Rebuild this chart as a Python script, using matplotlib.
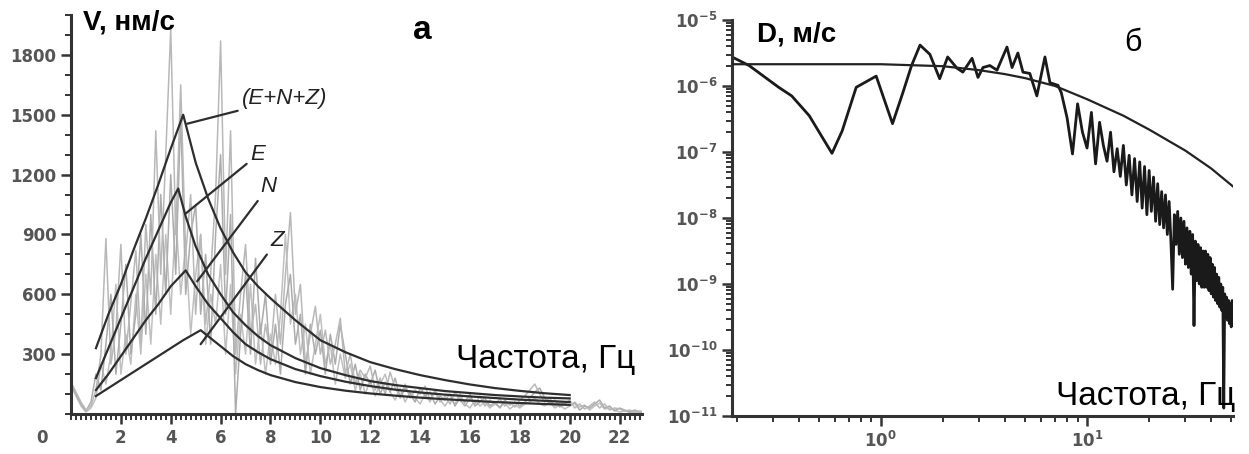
import numpy as np
import matplotlib
matplotlib.use('Agg')
import matplotlib.pyplot as plt
from matplotlib import font_manager
from matplotlib.ticker import MultipleLocator, LogLocator, NullFormatter, FixedLocator, FuncFormatter

names = {f.name for f in font_manager.fontManager.ttflist}
SANS = 'Liberation Sans' if 'Liberation Sans' in names else 'DejaVu Sans'
NARROW = 'Liberation Sans Narrow' if 'Liberation Sans Narrow' in names else SANS

# ---------------- Panel a: velocity spectra (linear) ----------------
df_a = 0.2  # Hz, frequency step of measured spectra
spec_E = [160,110,60,20,40,120,300,880,250,420, 850,300,560,820,350,950,600,1420,700,1300,
          1930,900,1650,800,1100,500,900,450,700,1100, 1870,700,1420,300,600,850,400,550,250,450,
          300,600,350,700,1010,500,650,250,400,540, 300,420,250,350,480,200,300,150,220,180,
          240,120,180,100,210,130,90,150,80,120, 100,140,70,110,60,90,50,110,70,40,
          80,50,90,40,70,50,75,40,60,35, 70,90,120,150,100,60,80,40,60,50,
          70,30,50,25,40,60,30,50,20,30, 25,15,20,10,15,10]
spec_N = [150,100,50,15,60,200,120,350,600,200, 450,750,300,500,900,400,1000,500,1100,600,
          1200,700,1500,600,900,1050,500,800,350,900, 1300,500,1000,0,400,700,300,780,400,600,
          250,450,200,550,700,350,500,200,450,300, 420,200,400,250,450,300,150,250,120,200,
          150,220,100,160,110,180,80,130,100,60, 130,90,110,50,90,70,100,40,80,60,
          100,40,60,80,40,60,30,70,45,60, 40,60,80,110,130,80,50,70,35,50,
          40,55,20,40,30,50,70,30,40,15, 30,20,10,20,10,15]
spec_Z = [140,90,40,10,30,80,250,150,300,650, 200,400,250,600,300,700,350,800,450,900,
          500,1000,600,850,400,700,900,350,600,450, 750,300,650,200,500,300,650,250,450,200,
          400,250,500,900,450,600,300,450,200,350, 500,250,350,150,300,180,250,120,200,100,
          170,90,150,200,110,70,130,60,110,80, 50,100,60,120,70,40,80,50,100,50,
          30,70,40,60,30,50,35,55,25,45, 30,50,60,80,50,40,60,30,45,25,
          40,60,35,45,20,40,55,25,30,20, 10,15,10,5,10,5]

# model (smooth) spectra
enz_f = [1.0,1.5,2,2.5,3,3.5,4,4.5,5,5.5,6,6.5,7,7.5,8,9,10,11,12,13,14,15,16,17,18,19,20]
enz_v = [330,500,650,820,980,1150,1330,1500,1260,1080,930,810,710,640,580,470,370,310,260,225,195,170,148,130,116,104,95]
e_f = [1,1.5,2,2.5,3,3.5,4,4.3,4.6,5,5.5,6,6.5,7,7.5,8,9,10,11,12,13,14,15,16,17,18,19,20]
e_v = [180,330,480,630,780,920,1060,1130,990,840,700,600,510,445,390,345,280,230,195,165,145,130,115,105,95,88,82,78]
n_f = [1,1.5,2,2.5,3,3.5,4,4.6,5,5.5,6,6.5,7,7.5,8,9,10,11,12,13,14,15,16,17,18,19,20]
n_v = [120,200,290,380,470,550,640,720,640,550,480,410,350,310,275,225,190,162,140,122,108,97,88,80,72,66,60]
z_f = [1,1.5,2,2.5,3,3.5,4,4.5,5.2,5.6,6,6.5,7,7.5,8,9,10,11,12,13,14,15,16,17,18,19,20]
z_v = [90,130,170,210,250,290,330,370,420,380,340,290,250,220,195,160,135,117,103,92,82,74,67,60,55,50,46]

# ---------------- Panel b: displacement spectrum (log-log) ----------------
# low-frequency part (read vertex by vertex)
freq_lo = [0.19,0.23,0.32,0.37,0.45,0.58,0.65,0.76,0.95,1.14,1.28,1.41,1.55,1.73,1.93,2.11,2.34,2.50,2.77,2.96,
           3.13,3.38,3.66,4.09,4.33,4.62,4.89,5.28,5.71,6.25,6.61,7.23]
logD_lo = [-5.56,-5.69,-6.02,-6.15,-6.45,-7.02,-6.68,-6.02,-5.85,-6.57,-6.10,-5.69,-5.38,-5.52,-5.89,-5.56,-5.73,-5.79,-5.58,-5.87,
           -5.72,-5.69,-5.76,-5.41,-5.72,-5.50,-5.79,-5.81,-6.15,-5.56,-5.95,-5.99]
# high-frequency part on a regular 0.5 Hz grid starting at 7.5 Hz
f0_hi, df_hi = 7.5, 0.5
logD_hi = [-6.10,-6.48,-7.03,-6.27,-6.70,-6.94,-6.40,-7.18,-6.55,-6.90,
           -7.14,-6.70,-7.30,-6.95,-7.37,-6.90,-7.50,-7.05,-7.65,-7.10,
           -7.75,-7.15,-7.85,-7.22,-7.95,-7.28,-7.90,-7.38,-8.05,-7.48,
           -8.10,-7.60,-8.15,-7.65,-8.25,-7.75,-8.35,-9.08,-7.95,-8.40,
           -7.90,-8.55,-8.00,-8.60,-8.05,-8.70,-8.15,-8.75,-8.20,-8.85,
           -8.25,-9.63,-8.35,-8.95,-8.40,-9.00,-8.45,-9.05,-8.50,-9.05,
           -8.50,-9.05,-8.55,-9.10,-8.60,-9.15,-8.70,-9.20,-8.75,-9.25,
           -8.85,-9.30,-8.90,-9.35,-9.00,-9.40,-9.05,-10.88,-9.15,-9.50,
           -9.20,-9.55,-9.25,-9.60,-9.30,-9.65,-9.25,-9.50]
model_f = [0.19,0.5,1,2,3,4,5,7,10,15,20,30,40,50.9]
model_logD = [-5.67,-5.67,-5.67,-5.70,-5.76,-5.82,-5.88,-6.0,-6.20,-6.45,-6.66,-6.98,-7.25,-7.52]

# ---------------- figure ----------------
W, H = 1249, 454
fig = plt.figure(figsize=(W/100, H/100), dpi=100)
fig.patch.set_facecolor('white')

def px_axes(x0, y0, x1, y1):
    return fig.add_axes([x0/W, 1-y1/H, (x1-x0)/W, (y1-y0)/H])

axA = px_axes(71, 15, 642, 414)
axB = px_axes(732, 20, 1233, 416)

spine_col = '#333333'
tick_col = '#555555'
for ax in (axA, axB):
    for s in ('top', 'right'):
        ax.spines[s].set_visible(False)
    for s in ('left', 'bottom'):
        ax.spines[s].set_linewidth(2.2)
        ax.spines[s].set_color(spine_col)
    ax.tick_params(which='major', direction='out', length=7, width=1.8, color=spine_col,
                   labelcolor=tick_col, labelsize=12)
    ax.tick_params(which='minor', direction='out', length=4, width=1.4, color=spine_col)

# panel a
axA.plot(df_a*np.arange(len(spec_Z)), spec_Z, color='#c0c0c0', lw=1.1, zorder=1)
axA.plot(df_a*np.arange(len(spec_N)), spec_N, color='#acacac', lw=1.1, zorder=1)
axA.plot(df_a*np.arange(len(spec_E)), spec_E, color='#b8b8b8', lw=1.1, zorder=1)
mcol = '#2e2e2e'
for f, v in ((enz_f, enz_v), (e_f, e_v), (n_f, n_v), (z_f, z_v)):
    axA.plot(f, v, color=mcol, lw=1.6, zorder=3)

axA.set_xlim(0, 22.9)
axA.set_ylim(0, 2000)
axA.set_xticks(np.arange(2, 23, 2))
axA.xaxis.set_minor_locator(MultipleLocator(0.2))
axA.set_yticks([300, 600, 900, 1200, 1500, 1800])
axA.yaxis.set_minor_locator(MultipleLocator(100))
for lab in axA.get_xticklabels() + axA.get_yticklabels():
    lab.set_fontweight('bold')
    lab.set_family('DejaVu Sans')
axA.annotate('0', xy=(0, 0), xytext=(-21, -17), textcoords='offset points',
             ha='center', va='center', fontsize=12, fontweight='bold', color=tick_col,
             family='DejaVu Sans', annotation_clip=False)

akw = dict(arrowprops=dict(arrowstyle='-', color=mcol, lw=1.6, shrinkA=1, shrinkB=0),
           fontsize=16, style='italic', family=NARROW, color='#222222', va='center', ha='left')
axA.annotate('(E+N+Z)', xy=(4.66, 1455), xytext=(6.85, 1580), **akw)
axA.annotate('E', xy=(4.6, 1005), xytext=(7.2, 1300), **akw)
axA.annotate('N', xy=(5.06, 665), xytext=(7.6, 1140), **akw)
axA.annotate('Z', xy=(5.2, 350), xytext=(8.0, 870), **akw)

axA.text(0.021, 1.015, 'V, нм/с', transform=axA.transAxes, ha='left', va='top',
         fontsize=20, fontweight='bold', family=SANS, color='black')
axA.text(0.615, 1.0, 'а', transform=axA.transAxes, ha='center', va='top',
         fontsize=24, fontweight='bold', family=SANS, color='black')
axA.text(0.988, 0.115, 'Частота, Гц', transform=axA.transAxes, ha='right', va='baseline',
         fontsize=24, family=SANS, color='black')

# panel b
axB.set_xscale('log')
axB.set_yscale('log')
freq_hi = f0_hi + df_hi*np.arange(len(logD_hi))
freq_all = list(freq_lo) + list(freq_hi)
logD_all = list(logD_lo) + list(logD_hi)
axB.plot(model_f, [10.0**v for v in model_logD], color='#222222', lw=1.6, zorder=3)
axB.plot(freq_all, [10.0**v for v in logD_all], color='#1a1a1a', lw=2.0, zorder=2)
axB.set_xlim(0.19, 51)
axB.set_ylim(1e-11, 1e-5)
axB.xaxis.set_major_locator(FixedLocator([1, 10]))
axB.xaxis.set_minor_locator(LogLocator(base=10, subs=np.arange(2, 10)))
axB.xaxis.set_minor_formatter(NullFormatter())
axB.yaxis.set_major_locator(FixedLocator([1e-11, 1e-10, 1e-9, 1e-8, 1e-7, 1e-6, 1e-5]))
axB.yaxis.set_minor_locator(LogLocator(base=10, subs=np.arange(2, 10), numticks=20))
axB.yaxis.set_minor_formatter(NullFormatter())
expfmt = FuncFormatter(lambda v, p: r'$\mathbf{10^{%d}}$' % int(round(np.log10(v))))
axB.xaxis.set_major_formatter(expfmt)
axB.yaxis.set_major_formatter(expfmt)
axB.tick_params(axis='both', which='major', labelsize=12)

axB.text(0.05, 0.995, 'D, м/с', transform=axB.transAxes, ha='left', va='top',
         fontsize=20, fontweight='bold', family=SANS, color='black')
axB.text(0.80, 0.98, 'б', transform=axB.transAxes, ha='center', va='top',
         fontsize=22, family=SANS, color='black')
axB.text(1.004, 0.028, 'Частота, Гц', transform=axB.transAxes, ha='right', va='baseline',
         fontsize=24, family=SANS, color='black')

fig.savefig('out.png', dpi=100, facecolor='white')
